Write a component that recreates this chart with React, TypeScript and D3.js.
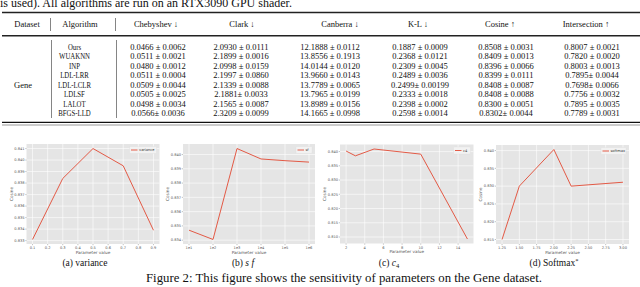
import * as d3 from "d3";

// Table 1 (Gene dataset) + Figure 2 parameter sensitivity panels

const algorithms = ["Ours", "WUAKNN", "INP", "LDL-LRR", "LDL-LCLR", "LDLSF", "LALOT", "BFGS-LLD"];
const metrics = ["Chebyshev ↓", "Clark ↓", "Canberra ↓", "K-L ↓", "Cosine ↑", "Intersection ↑"];

const chebyshev = ["0.0466 ± 0.0062", "0.0511 ± 0.0021", "0.0480 ± 0.0012", "0.0511 ± 0.0004", "0.0509 ± 0.0044", "0.0505 ± 0.0025", "0.0498 ± 0.0034", "0.0566± 0.0036"];
const clark = ["2.0930 ± 0.0111", "2.1899 ± 0.0016", "2.0998 ± 0.0159", "2.1997 ± 0.0860", "2.1339 ± 0.0088", "2.1881± 0.0033", "2.1565 ± 0.0087", "2.3209 ± 0.0099"];
const canberra = ["12.1888 ± 0.0112", "13.8556 ± 0.1913", "14.0144 ± 0.0120", "13.9660 ± 0.0143", "13.7789 ± 0.0065", "13.7965 ± 0.0199", "13.8989 ± 0.0156", "14.1665 ± 0.0998"];
const kl = ["0.1887 ± 0.0009", "0.2368 ± 0.0121", "0.2309 ± 0.0045", "0.2489 ± 0.0036", "0.2499± 0.00199", "0.2333 ± 0.0018", "0.2398 ± 0.0002", "0.2598 ± 0.0014"];
const cosine = ["0.8508 ± 0.0031", "0.8409 ± 0.0013", "0.8396 ± 0.0066", "0.8399 ± 0.0111", "0.8408 ± 0.0087", "0.8408 ± 0.0088", "0.8300 ± 0.0051", "0.8302± 0.0044"];
const intersection = ["0.8007 ± 0.0021", "0.7820 ± 0.0020", "0.8003 ± 0.0013", "0.7895± 0.0044", "0.7698± 0.0066", "0.7756 ± 0.0032", "0.7895 ± 0.0035", "0.7789 ± 0.0031"];
const metricValues = [chebyshev, clark, canberra, kl, cosine, intersection];

// (a) variance
const varianceX = [0.1, 0.3, 0.5, 0.7, 0.9];
const varianceY = [0.8331, 0.8384, 0.841, 0.8395, 0.8339];
const varianceXTicks = [0.1, 0.2, 0.3, 0.4, 0.5, 0.6, 0.7, 0.8, 0.9];
const varianceYTicks = [0.833, 0.834, 0.835, 0.836, 0.837, 0.838, 0.839, 0.84, 0.841];

// (b) sf
const sfX = ["1e1", "1e2", "1e3", "1e4", "1e5", "1e6"];
const sfY = [0.8347, 0.83405, 0.84042, 0.83969, 0.83957, 0.83947];
const sfYTicks = [0.834, 0.835, 0.836, 0.837, 0.838, 0.839, 0.84];

// (c) c4
const c4X = [2, 3, 5, 10, 15];
const c4Y = [0.8402, 0.8385, 0.8409, 0.8391, 0.8093];
const c4XTicks = [2, 4, 6, 8, 10, 12, 14];
const c4YTicks = [0.81, 0.815, 0.82, 0.825, 0.83, 0.835, 0.84];

// (d) softmax
const softmaxX = [1.25, 1.5, 2.0, 2.25, 3.0];
const softmaxY = [0.815, 0.83, 0.8403, 0.83, 0.8311];
const softmaxXTicks = [1.25, 1.5, 1.75, 2.0, 2.25, 2.5, 2.75, 3.0];
const softmaxYTicks = [0.815, 0.82, 0.825, 0.83, 0.835, 0.84];

const SERIF = "'Liberation Serif', 'Times New Roman', serif";
const SANS = "'DejaVu Sans', sans-serif";
const RED = "#E24A33";
const TXT = 8.5;

type PanelProps = {
  box: { x0: number; x1: number; y0: number; y1: number };
  xs: (number | string)[];
  ys: number[];
  xTicks: (number | string)[];
  xFormat: (v: any) => string;
  yTicks: number[];
  legend: string;
  legendW: number;
};

const Panel = ({ box, xs, ys, xTicks, xFormat, yTicks, legend, legendW }: PanelProps) => {
  const { x0, x1, y0, y1 } = box;
  let x: (v: any) => number;
  if (typeof xs[0] === "string") {
    const s = d3.scalePoint<string>().domain(xs as string[]).range([x0, x1]).padding(0.25);
    x = (v) => s(v) ?? 0;
  } else {
    const [lo, hi] = d3.extent(xs as number[]) as [number, number];
    const pad = (hi - lo) * 0.05;
    const s = d3.scaleLinear().domain([lo - pad, hi + pad]).range([x0, x1]);
    x = (v) => s(v);
  }
  const [ylo, yhi] = d3.extent(ys) as [number, number];
  const ypad = (yhi - ylo) * 0.05;
  const y = d3.scaleLinear().domain([ylo - ypad, yhi + ypad]).range([y1, y0]);
  const line = d3.line<number>().x((_, i) => x(xs[i])).y((d) => y(d));
  const fmt = d3.format(".3f");

  return (
    <g fontFamily={SANS}>
      <rect x={x0} y={y0} width={x1 - x0} height={y1 - y0} fill="#E5E5E5" />
      {yTicks.map((t) => (
        <g key={"y" + t}>
          <line x1={x0} x2={x1} y1={y(t)} y2={y(t)} stroke="#fff" strokeWidth={0.6} />
          <line x1={x0 - 1.2} x2={x0} y1={y(t)} y2={y(t)} stroke="#666" strokeWidth={0.4} />
          <text x={x0 - 2} y={y(t) + 1.3} fontSize={3.6} fill="#555" textAnchor="end">{fmt(t)}</text>
        </g>
      ))}
      {xTicks.map((t) => (
        <g key={"x" + t}>
          <line x1={x(t)} x2={x(t)} y1={y0} y2={y1} stroke="#fff" strokeWidth={0.6} />
          <line x1={x(t)} x2={x(t)} y1={y1} y2={y1 + 1.2} stroke="#666" strokeWidth={0.4} />
          <text x={x(t)} y={y1 + 5} fontSize={3.6} fill="#555" textAnchor="middle">{xFormat(t)}</text>
        </g>
      ))}
      <path d={line(ys) ?? ""} fill="none" stroke={RED} strokeWidth={0.9} />
      <g>
        <rect x={x1 - legendW - 3} y={y0 + 2.5} width={legendW} height={7} fill="#F2F2F2" stroke="#DADADA" strokeWidth={0.3} rx={0.6} />
        <line x1={x1 - legendW - 1.5} x2={x1 - legendW + 5} y1={y0 + 6} y2={y0 + 6} stroke={RED} strokeWidth={0.9} />
        <text x={x1 - legendW + 6.5} y={y0 + 7.3} fontSize={3.6} fill="#333">{legend}</text>
      </g>
      <text x={(x0 + x1) / 2} y={y1 + 9.5} fontSize={4.2} fill="#555" textAnchor="middle">Parameter value</text>
      <text transform={`translate(${x0 - 14},${(y0 + y1) / 2}) rotate(-90)`} fontSize={4.2} fill="#555" textAnchor="middle">Cosine</text>
    </g>
  );
};

const App = () => {
  const rowY = d3.scalePoint<string>().domain(algorithms).range([46.7, 113.3]);
  const headCx = [156, 242, 340, 418, 500, 586];
  const bodyCx = [158, 241, 330, 420, 506, 592];

  return (
    <svg width={640} height={287} style={{ position: "absolute", left: 0, top: 0, background: "#fff" }}>
      <text x={0} y={6.5} fontFamily={SERIF} fontSize={12} fill="#111">is used). All algorithms are run on an RTX3090 GPU shader.</text>

      {/* table rules */}
      <line x1={2} x2={640} y1={12.5} y2={12.5} stroke="#222" strokeWidth={1.6} />
      <line x1={2} x2={640} y1={35.8} y2={35.8} stroke="#222" strokeWidth={1.4} />
      <line x1={2} x2={640} y1={122.3} y2={122.3} stroke="#111" strokeWidth={1.2} />
      <line x1={2} x2={640} y1={125} y2={125} stroke="#555" strokeWidth={0.6} />
      <line x1={50.5} x2={50.5} y1={18} y2={31} stroke="#333" strokeWidth={0.6} />
      <line x1={115.5} x2={115.5} y1={18} y2={31} stroke="#333" strokeWidth={0.6} />
      <line x1={51.5} x2={51.5} y1={40} y2={118} stroke="#333" strokeWidth={0.6} />
      <line x1={116.5} x2={116.5} y1={40} y2={118} stroke="#333" strokeWidth={0.6} />

      <g fontFamily={SERIF} fontSize={TXT} fill="#111" textAnchor="middle">
        <text x={27} y={27.3}>Dataset</text>
        <text x={80} y={27.3}>Algorithm</text>
        {metrics.map((m, i) => (
          <text key={m} x={headCx[i]} y={27.3}>{m}</text>
        ))}
        <text x={23} y={rowY("LDL-LCLR")! + 3}>Gene</text>
        {algorithms.map((a, r) => (
          <g key={a}>
            <text transform={`translate(74.5,${rowY(a)! + 3}) scale(0.8,1)`}>{a}</text>
            {metricValues.map((col, c) => (
              <text key={c} x={bodyCx[c]} y={rowY(a)! + 3}>{col[r]}</text>
            ))}
          </g>
        ))}
      </g>

      <Panel box={{ x0: 26.5, x1: 159.5, y0: 144, y1: 244 }} xs={varianceX} ys={varianceY}
        xTicks={varianceXTicks} xFormat={d3.format(".1f")} yTicks={varianceYTicks} legend="variance" legendW={27} />
      <Panel box={{ x0: 183, x1: 315, y0: 144, y1: 244 }} xs={sfX} ys={sfY}
        xTicks={sfX} xFormat={(v) => v} yTicks={sfYTicks} legend="sf" legendW={16} />
      <Panel box={{ x0: 340, x1: 473.5, y0: 144.5, y1: 243.5 }} xs={c4X} ys={c4Y}
        xTicks={c4XTicks} xFormat={d3.format("d")} yTicks={c4YTicks} legend="c4" legendW={17} />
      <Panel box={{ x0: 496, x1: 629, y0: 145, y1: 244 }} xs={softmaxX} ys={softmaxY}
        xTicks={softmaxXTicks} xFormat={d3.format(".2f")} yTicks={softmaxYTicks} legend="softmax" legendW={25} />

      <g fontFamily={SERIF} fontSize={9.5} fill="#111" textAnchor="middle">
        <text x={85} y={266}>(a) variance</text>
        <text x={243} y={266}>(b) <tspan fontStyle="italic">s f</tspan></text>
        <text x={389} y={266}>(c) <tspan fontStyle="italic">c</tspan><tspan fontSize={6.5} dy={1.5}>4</tspan></text>
        <text x={554} y={266}>(d) Softmax<tspan fontSize={6.5} dy={-3}>*</tspan></text>
      </g>
      <text x={344} y={282} fontFamily={SERIF} fontSize={12.8} fill="#111" textAnchor="middle">
        Figure 2: This figure shows the sensitivity of parameters on the Gene dataset.
      </text>
    </svg>
  );
};

export default App;
